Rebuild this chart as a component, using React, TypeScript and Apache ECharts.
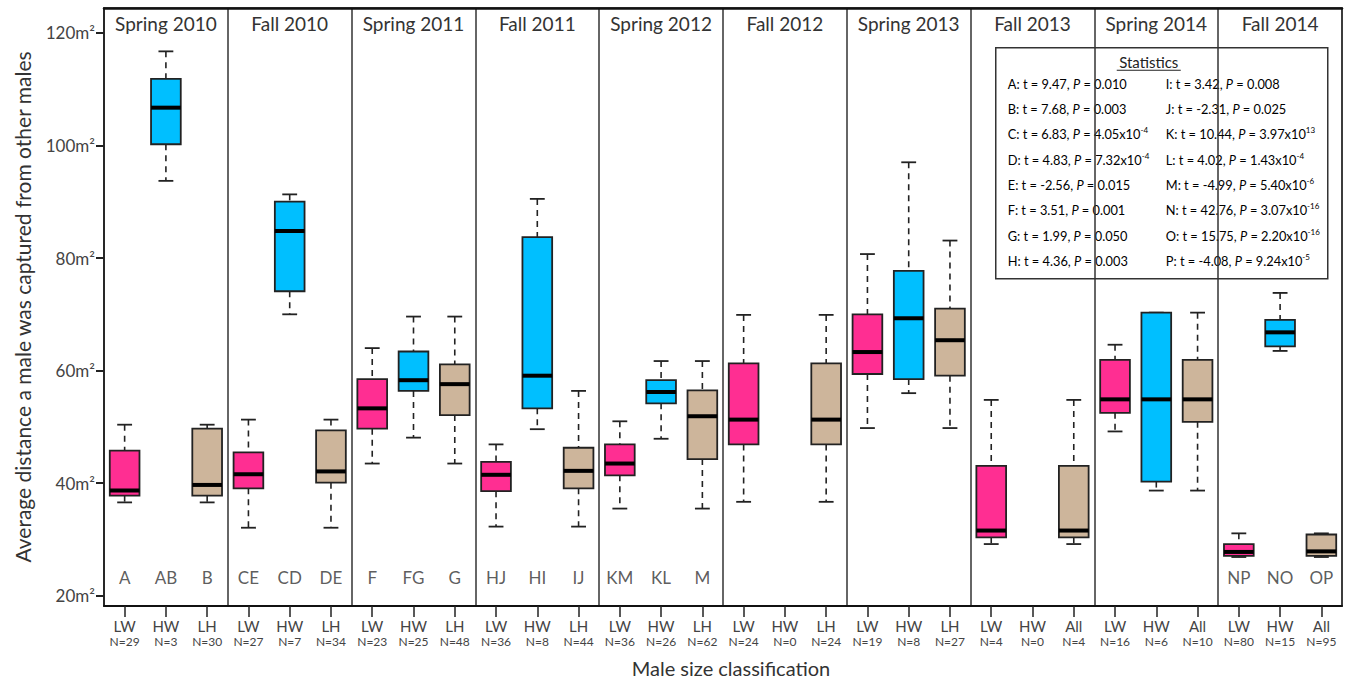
import React, { useEffect, useRef } from 'react';
import * as echarts from 'echarts';

const seasons = ['Spring 2010', 'Fall 2010', 'Spring 2011', 'Fall 2011', 'Spring 2012', 'Fall 2012', 'Spring 2013', 'Fall 2013', 'Spring 2014', 'Fall 2014'];
const groupLabels = ['LW', 'HW', 'LH', 'LW', 'HW', 'LH', 'LW', 'HW', 'LH', 'LW', 'HW', 'LH', 'LW', 'HW', 'LH', 'LW', 'HW', 'LH', 'LW', 'HW', 'LH', 'LW', 'HW', 'All', 'LW', 'HW', 'All', 'LW', 'HW', 'All'];
const nCounts = [29, 3, 30, 27, 7, 34, 23, 25, 48, 36, 8, 44, 36, 26, 62, 24, 0, 24, 19, 8, 27, 4, 0, 4, 16, 6, 10, 80, 15, 95];
const letters = ['A', 'AB', 'B', 'CE', 'CD', 'DE', 'F', 'FG', 'G', 'HJ', 'HI', 'IJ', 'KM', 'KL', 'M', '', '', '', '', '', '', '', '', '', '', '', '', 'NP', 'NO', 'OP'];
const whiskerLow = [36.6, 93.7, 36.6, 32.1, 70.0, 32.1, 43.5, 48.1, 43.5, 32.3, 49.6, 32.3, 35.5, 47.9, 35.5, 36.7, null, 36.7, 49.8, 56.0, 49.8, 29.2, null, 29.2, 49.2, 38.7, 38.7, 26.9, 63.5, 26.9];
const quartile1 = [37.8, 100.2, 37.8, 39.1, 74.1, 40.1, 49.7, 56.4, 52.1, 38.6, 53.3, 39.1, 41.4, 54.2, 44.3, 46.9, null, 46.9, 59.4, 58.5, 59.1, 30.4, null, 30.4, 52.5, 40.3, 50.9, 27.1, 64.3, 27.1];
const medians = [38.7, 106.7, 39.7, 41.6, 84.8, 42.1, 53.3, 58.3, 57.6, 41.5, 59.1, 42.2, 43.5, 56.2, 51.9, 51.3, null, 51.3, 63.3, 69.3, 65.4, 31.6, null, 31.6, 54.9, 54.9, 54.9, 27.8, 66.8, 27.9];
const quartile3 = [45.8, 111.8, 49.7, 45.5, 90.0, 49.4, 58.5, 63.4, 61.1, 43.8, 83.7, 46.3, 46.9, 58.3, 56.5, 61.3, null, 61.3, 70.0, 77.7, 71.0, 43.1, null, 43.1, 61.9, 70.3, 61.9, 29.2, 69.0, 30.9];
const whiskerHigh = [50.4, 116.7, 50.4, 51.3, 91.3, 51.3, 64.0, 69.6, 69.6, 46.9, 90.5, 56.4, 51.0, 61.7, 61.7, 69.9, null, 69.9, 80.7, 97.0, 83.1, 54.8, null, 54.8, 64.6, 70.3, 70.3, 31.1, 73.8, 31.1];
const yTicks = [20, 40, 60, 80, 100, 120];
const letterLevel = 23.3;

// Statistics: [label, t, P mantissa/value, P exponent or '']
const statsLeft = [
  ['A', '9.47', '0.010', ''],
  ['B', '7.68', '0.003', ''],
  ['C', '6.83', '4.05x10', '-4'],
  ['D', '4.83', '7.32x10', '-4'],
  ['E', '-2.56', '0.015', ''],
  ['F', '3.51', '0.001', ''],
  ['G', '1.99', '0.050', ''],
  ['H', '4.36', '0.003', ''],
];
const statsRight = [
  ['I', '3.42', '0.008', ''],
  ['J', '-2.31', '0.025', ''],
  ['K', '10.44', '3.97x10', '13'],
  ['L', '4.02', '1.43x10', '-4'],
  ['M', '-4.99', '5.40x10', '-6'],
  ['N', '42.76', '3.07x10', '-16'],
  ['O', '15.75', '2.20x10', '-16'],
  ['P', '-4.08', '9.24x10', '-5'],
];

const boxColors = ['#ff2e92', '#00bfff', '#cdb59b'];
const FONT = 'Lato, "Noto Sans", sans-serif';

function statText(row: string[]) {
  const [k, t, p, e] = row;
  let s = `{n|${k}: t = ${t}, }{i|P}{n| = ${p}}`;
  if (e) s += `{s|${e}}`;
  return s;
}

export default function App() {
  const ref = useRef<HTMLDivElement>(null);
  useEffect(() => {
    const chart = echarts.init(ref.current!, undefined, { renderer: 'svg' });
    const cats = groupLabels.map((g, i) => `${g}-${i}`);
    const boxData: any[] = [];
    for (let i = 0; i < cats.length; i++) {
      if (medians[i] == null) continue;
      boxData.push([i, whiskerLow[i], quartile1[i], medians[i], quartile3[i], whiskerHigh[i]]);
    }
    const letterData: any[] = [];
    letters.forEach((l, i) => { if (l) letterData.push([i, letterLevel, l]); });

    const rich = {
      n: { fontSize: 12.8, fontFamily: FONT, color: '#222', lineHeight: 16 },
      i: { fontSize: 12.8, fontFamily: FONT, color: '#222', fontStyle: 'italic', lineHeight: 16 },
      s: { fontSize: 8, fontFamily: FONT, color: '#222', verticalAlign: 'top', lineHeight: 16 },
    };
    const statEls: any[] = [];
    const rowY0 = 36;
    const rowStep = 25.3;
    statsLeft.forEach((r, k) => {
      statEls.push({ type: 'text', x: 12, y: rowY0 + k * rowStep, style: { text: statText(r), rich, verticalAlign: 'middle', textAlign: 'left' } });
    });
    statsRight.forEach((r, k) => {
      statEls.push({ type: 'text', x: 170, y: rowY0 + k * rowStep, style: { text: statText(r), rich, verticalAlign: 'middle', textAlign: 'left' } });
    });

    const option: any = {
      animation: false,
      textStyle: { fontFamily: FONT },
      grid: { left: 104, right: 4, top: 8, bottom: 77, show: true, borderColor: '#222', borderWidth: 1.5, backgroundColor: '#fff' },
      xAxis: [
        {
          type: 'category',
          data: cats,
          position: 'bottom',
          boundaryGap: true,
          axisLine: { show: true, lineStyle: { color: '#111', width: 2 } },
          axisTick: { show: true, alignWithLabel: true, length: 11, lineStyle: { color: '#222', width: 1.5 } },
          splitLine: { show: true, interval: (idx: number) => idx % 3 === 0, lineStyle: { color: '#333', width: 1.5 } },
          axisLabel: {
            interval: 0,
            margin: 12,
            formatter: (_v: string, i: number) => `{a|${groupLabels[i]}}\n{b|N=${nCounts[i]}}`,
            rich: {
              a: { fontSize: 15, color: '#444', fontFamily: FONT, lineHeight: 16 },
              b: { fontSize: 12, color: '#444', fontFamily: FONT, lineHeight: 15 },
            },
          },
          name: 'Male size classification',
          nameLocation: 'middle',
          nameGap: 52,
          nameTextStyle: { fontSize: 20, color: '#333', fontFamily: FONT, padding: [0, 0, 0, 16] },
        },
        {
          type: 'category',
          data: cats,
          position: 'top',
          boundaryGap: true,
          axisLine: { show: true, lineStyle: { color: '#111', width: 2.5 } },
          axisTick: { show: false },
          axisLabel: {
            interval: 0,
            inside: true,
            margin: 6,
            fontSize: 19,
            fontWeight: 'normal',
            color: '#333',
            fontFamily: FONT,
            formatter: (_v: string, i: number) => (i % 3 === 1 ? seasons[Math.floor(i / 3)] : ''),
          },
        },
      ],
      yAxis: {
        type: 'value',
        min: 18.2,
        max: 124.4,
        axisLine: { show: true, lineStyle: { color: '#222', width: 1.5 } },
        axisTick: { show: true, length: 8, customValues: yTicks, lineStyle: { color: '#222', width: 2 } },
        splitLine: { show: false },
        axisLabel: {
          customValues: yTicks,
          formatter: (v: number) => `${v}m²`,
          fontSize: 17,
          color: '#444',
          fontFamily: FONT,
          margin: 9,
          padding: [0, 0, 10, 0],
        },
        name: 'Average distance a male was captured from other males',
        nameLocation: 'middle',
        nameRotate: 90,
        nameGap: 71,
        nameTextStyle: { fontSize: 21, color: '#333', fontFamily: FONT },
      },
      series: [
        {
          type: 'custom',
          xAxisIndex: 0,
          data: boxData,
          encode: { x: 0, y: [1, 2, 3, 4, 5] },
          z: 3,
          renderItem: (_p: any, api: any) => {
            const idx = api.value(0);
            const lo = api.value(1);
            const q1 = api.value(2);
            const med = api.value(3);
            const q3 = api.value(4);
            const hi = api.value(5);
            const x = api.coord([idx, med])[0];
            const yLo = api.coord([idx, lo])[1];
            const yQ1 = api.coord([idx, q1])[1];
            const yMed = api.coord([idx, med])[1];
            const yQ3 = api.coord([idx, q3])[1];
            const yHi = api.coord([idx, hi])[1];
            const bw = api.size([1, 0])[0] * 0.72;
            const cw = bw * 0.5;
            const color = boxColors[idx % 3];
            const wStyle = { stroke: '#222', lineWidth: 1.6, lineDash: [6, 5] };
            const cStyle = { stroke: '#222', lineWidth: 1.8 };
            return {
              type: 'group',
              children: [
                { type: 'line', shape: { x1: x, y1: yHi, x2: x, y2: yQ3 }, style: wStyle },
                { type: 'line', shape: { x1: x, y1: yQ1, x2: x, y2: yLo }, style: wStyle },
                { type: 'line', shape: { x1: x - cw / 2, y1: yHi, x2: x + cw / 2, y2: yHi }, style: cStyle },
                { type: 'line', shape: { x1: x - cw / 2, y1: yLo, x2: x + cw / 2, y2: yLo }, style: cStyle },
                { type: 'rect', shape: { x: x - bw / 2, y: yQ3, width: bw, height: yQ1 - yQ3 }, style: { fill: color, stroke: '#222', lineWidth: 1.8 } },
                { type: 'rect', shape: { x: x - bw / 2, y: yMed - 2, width: bw, height: 4 }, style: { fill: '#000' } },
              ],
            };
          },
        },
        {
          type: 'scatter',
          xAxisIndex: 0,
          data: letterData,
          symbolSize: 0,
          silent: true,
          label: {
            show: true,
            position: 'inside',
            formatter: (p: any) => p.value[2],
            fontSize: 17,
            color: '#333',
            fontFamily: FONT,
          },
        },
      ],
      graphic: [
        {
          type: 'group',
          left: 995,
          top: 47,
          z: 10,
          children: [
            { type: 'rect', shape: { x: 0, y: 0, width: 332, height: 231 }, style: { fill: '#fff', stroke: '#333', lineWidth: 1.5 } },
            { type: 'text', x: 153, y: 14, style: { text: 'Statistics', fontSize: 15, fontFamily: FONT, fill: '#222', textAlign: 'center', verticalAlign: 'middle' } },
            { type: 'line', shape: { x1: 121, y1: 22.5, x2: 185, y2: 22.5 }, style: { stroke: '#222', lineWidth: 1 } },
            ...statEls,
          ],
        },
      ],
    };
    chart.setOption(option);
    return () => chart.dispose();
  }, []);
  return <div ref={ref} style={{ position: 'fixed', left: 0, top: 0, width: 1346, height: 683, background: '#fff' }} />;
}
